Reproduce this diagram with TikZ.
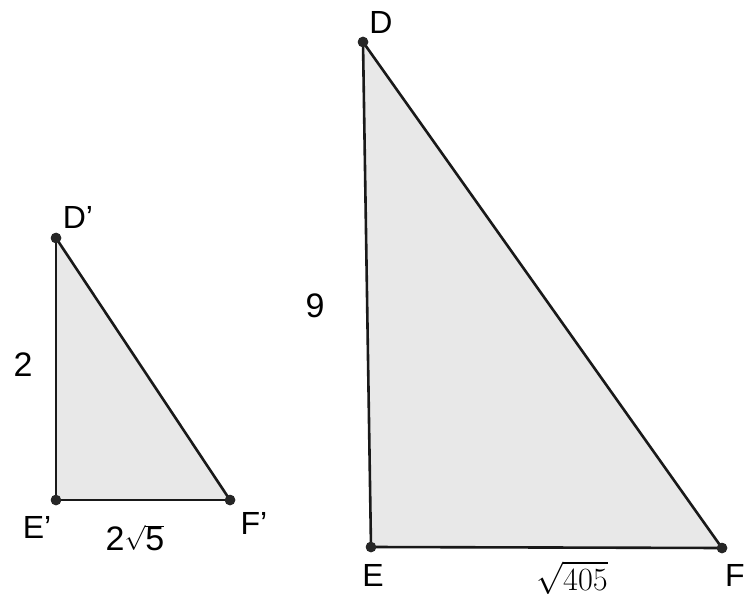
\documentclass[tikz,border=0pt]{standalone}
\usepackage{fontspec}
\setmainfont{Liberation Sans}
\begin{document}
\begin{tikzpicture}[x=1pt,y=-1pt,
  vtx/.style={circle,fill=black!85,inner sep=0pt,minimum size=10.5pt},
  tri/.style={fill=black!9},
  edge/.style={draw=black!90,line width=2.6pt,line cap=round},
  lbl/.style={inner sep=0pt,font=\fontsize{32}{32}\selectfont},
  num/.style={inner sep=0pt,font=\fontsize{34}{34}\selectfont}]
\useasboundingbox (0,0) rectangle (745,607);
% small triangle
\node[vtx] (Dp) at (56,238) {};
\node[vtx] (Ep) at (56,500) {};
\node[vtx] (Fp) at (230,500) {};
\fill[tri] (Dp.center) -- (Ep.center) -- (Fp.center) -- cycle;
\draw[edge] (Dp.center) -- (Ep.center);
\draw[edge] (Ep.center) -- (Fp.center);
\draw[edge] (Dp.center) -- (Fp.center);
\node[vtx] at (Dp) {};
\node[vtx] at (Ep) {};
\node[vtx] at (Fp) {};
% large triangle
\node[vtx] (D) at (363,42) {};
\node[vtx] (E) at (371,547) {};
\node[vtx] (F) at (722,548) {};
\fill[tri] (D.center) -- (E.center) -- (F.center) -- cycle;
\draw[edge] (D.center) -- (E.center);
\draw[edge] (E.center) -- (F.center);
\draw[edge] (D.center) -- (F.center);
\node[vtx] at (D) {};
\node[vtx] at (E) {};
\node[vtx] at (F) {};
% labels
\node[lbl] (lDp) at (78,217) {D'};
\node[lbl] (lEp) at (37,527) {E'};
\node[lbl] (lFp) at (254,523) {F'};
\node[num] (l2) at (23,365) {2};
\node[num] (l2r5) at (135,538) {2$\sqrt{\mbox{5}}$};
\node[lbl] (lD) at (381,22) {D};
\node[lbl] (lE) at (373,575) {E};
\node[lbl] (lF) at (735,575) {F};
\node[num] (l9) at (315,306) {9};
\node[inner sep=0pt,font=\fontsize{24.88}{25}\selectfont,scale=1.3] (l405) at (572,578) {$\sqrt{405}$};
\end{tikzpicture}
\end{document}
